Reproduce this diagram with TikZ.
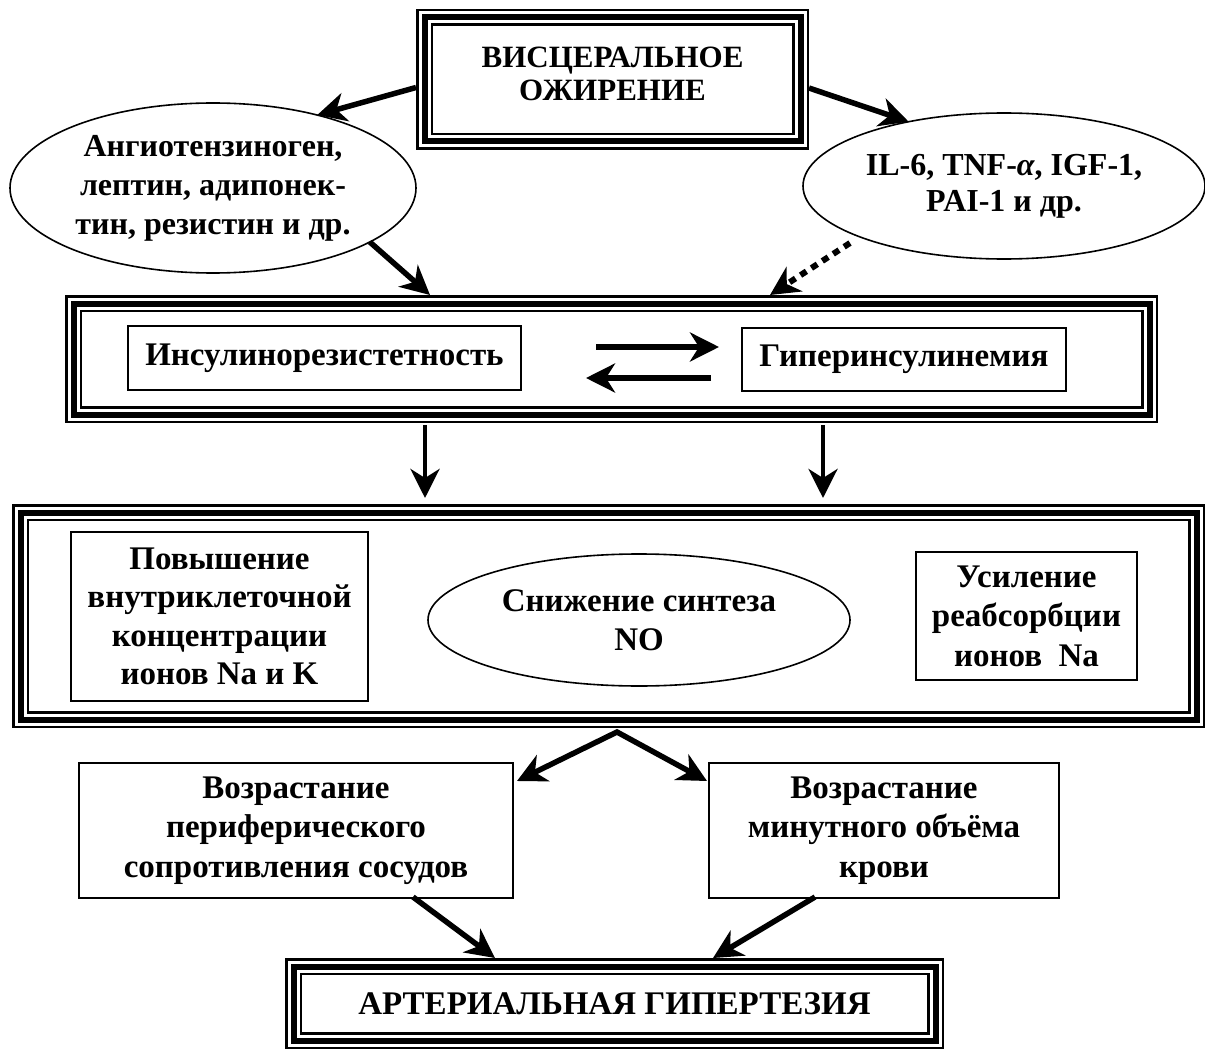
\documentclass[tikz,border=0pt]{standalone}
\usepackage{fontspec}
\setmainfont{Liberation Serif}
\usetikzlibrary{arrows.meta,shapes.geometric,calc}
\begin{document}
\begin{tikzpicture}[x=1pt,y=-1pt,
  every node/.style={font=\fontsize{33}{39.5}\selectfont\bfseries, align=center, inner sep=0pt},
  triple/.style={draw, line width=17pt, postaction={draw=white, line width=12pt}, postaction={draw=black, line width=6pt}, outer sep=8.5pt},
  box/.style={draw, line width=2pt, outer sep=1pt},
  oval/.style={ellipse, draw, line width=1.6pt, outer sep=0pt, font=\fontsize{32}{39}\selectfont\bfseries},
  arr/.style={line width=5.5pt, -{Stealth[length=29pt,width=29pt,inset=9pt]}},
  dotarr/.style={line width=6pt, dash pattern=on 7pt off 6pt, -{Stealth[length=29pt,width=29pt,inset=9pt]}},
]
\useasboundingbox (0,0) rectangle (1205,1051);

% nodes
\node[triple, minimum width=376pt, minimum height=124pt] (vo) at (612.5,79.5) {};
\node[font=\fontsize{31}{33.5}\selectfont\bfseries] (vot) at (612.5,74) {ВИСЦЕРАЛЬНОЕ\\ОЖИРЕНИЕ};
\node[oval, minimum width=406pt, minimum height=170pt] (lel) at (213,188) {Ангиотензиноген,\\лептин, адипонек-\\тин, резистин и др.};
\node[oval, minimum width=402pt, minimum height=146pt, font=\fontsize{32}{36}\selectfont\bfseries] (rel) at (1004,186) {IL-6, TNF-{\itshape α}, IGF-1,\\PAI-1 и др.};

\node[triple, minimum width=1076pt, minimum height=111pt] (ins) at (611.5,359) {};
\node[box, minimum width=393pt, minimum height=64pt] (ir) at (324.5,358) {Инсулинорезистетность};
\node[box, minimum width=324pt, minimum height=63pt] (hi) at (904,359.5) {Гиперинсулинемия};

\node[triple, minimum width=1176pt, minimum height=207pt] (nc) at (608.5,616) {};
\node[box, minimum width=297pt, minimum height=169pt, font=\fontsize{33}{38.5}\selectfont\bfseries] (na) at (219.5,616.5) {Повышение\\внутриклеточной\\концентрации\\ионов Na и K};
\node[oval, minimum width=422pt, minimum height=132pt, font=\fontsize{33}{38.5}\selectfont\bfseries] (no) at (639,620) {Снижение синтеза\\NO};
\node[box, minimum width=221pt, minimum height=128pt] (re) at (1026.5,616) {Усиление\\реабсорбции\\ионов\ \ Na};

\node[box, minimum width=434pt, minimum height=135pt] (vl) at (296,830.5) {Возрастание\\периферического\\сопротивления сосудов};
\node[box, minimum width=350pt, minimum height=135pt] (vr) at (884,830.5) {Возрастание\\минутного объёма\\крови};
\node[triple, minimum width=642pt, minimum height=74pt] (ag) at (614.5,1003.5) {АРТЕРИАЛЬНАЯ ГИПЕРТЕЗИЯ};

% connectors
\draw[arr] ($(vo.west)+(0,8)$) -- (lel.35);
\draw[arr] ($(vo.east)+(0,8.5)$) -- (rel.146);
\draw[arr] (lel.-19) -- ($(ins.north)+(-181.5,0)$);
\draw[dotarr] ($(rel.south)+(-154,-16)$) -- ($(ins.north)+(158.5,0)$);

\draw[arr] ($(ir.east)+(74,-11)$) -- ($(hi.west)+(-22,-12.5)$);
\draw[arr] ($(hi.west)+(-30,18.5)$) -- ($(ir.east)+(64,20)$);

\draw[arr, line width=4.5pt] ($(ins.south)+(-186.5,2)$) -- ($(nc.north)+(-183.5,-6)$);
\draw[arr, line width=4.5pt] ($(ins.south)+(211.5,2)$) -- ($(nc.north)+(214.5,-6)$);

\coordinate (apex) at ($(nc.south)+(8.5,4)$);
\draw[line width=5.5pt, {Stealth[length=29pt,width=29pt,inset=9pt]}-{Stealth[length=29pt,width=29pt,inset=9pt]}]
  ($(vl.north east)+(3,19)$) -- (apex) -- ($(vr.north west)+(-1,19)$);

\draw[arr] ($(vl.south)+(117,-2)$) -- ($(ag.north)+(-119.5,0)$);
\draw[arr] ($(vr.south)+(-69,-2)$) -- ($(ag.north)+(98.5,0)$);
\end{tikzpicture}
\end{document}
